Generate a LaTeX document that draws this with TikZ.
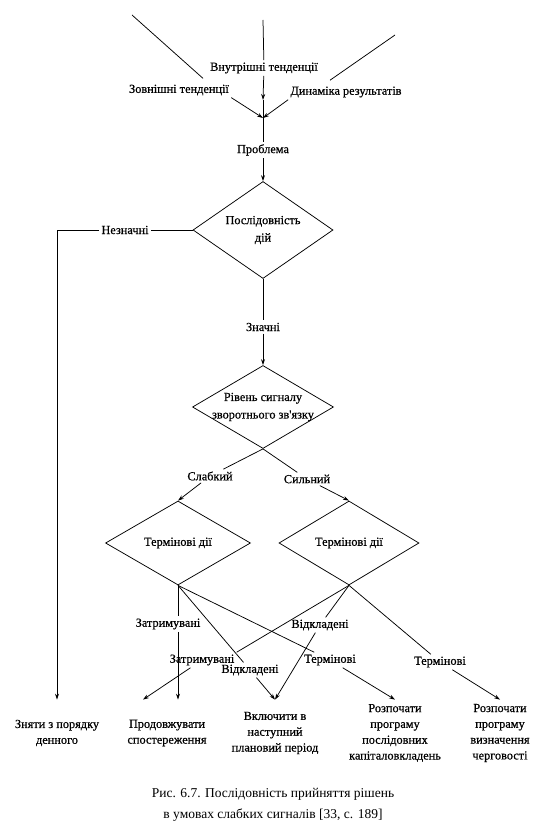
\documentclass[tikz,border=0pt]{standalone}
\usepackage{fontspec}
\setmainfont{Liberation Serif}
\newfontfamily\scanfont{Liberation Serif}[FakeBold=0.6]
\usetikzlibrary{arrows.meta,shapes.geometric}

\begin{document}
\begin{tikzpicture}[x=1pt,y=-1pt,line width=0.75pt,
    lbl/.style={inner sep=2pt,font=\scanfont\fontsize{12.3}{14}\selectfont},
    dia/.style={draw,diamond,aspect=1.6,inner sep=-6pt,align=center,font=\scanfont\fontsize{12.3}{17.5}\selectfont},
    leaf/.style={align=center,inner sep=0pt,minimum height=66pt,font=\scanfont\fontsize{12.3}{15.8}\selectfont},
    arr/.style={-{Stealth[length=6pt,width=4pt]}}]
      \useasboundingbox (0,0) rectangle (547,834);
      % inputs
      \coordinate (vtop) at (263,20);
      \coordinate (ztop) at (132,15);
      \coordinate (dtop) at (395,35);
      \coordinate (meet) at (263,118);
      \node[lbl] (vnut) at (264,68) {Внутрішні тенденції};
      \node[lbl] (zovn) at (179,90) {Зовнішні тенденції};
      \node[lbl] (dyn) at (346,92) {Динаміка результатів};
      \node[lbl] (probl) at (263,150) {Проблема};
      % decisions
      \node[dia,minimum width=140pt,minimum height=97pt] (posl) at (263,230) {Послідовність\\дій};
      \node[lbl] (nezn) at (125,230) {Незначні};
      \node[lbl] (znach) at (263,327) {Значні};
      \node[dia,minimum width=141pt,minimum height=83pt] (riv) at (263,407) {Рівень сигналу\\зворотнього зв'язку};
      \node[lbl] (slab) at (210,476) {Слабкий};
      \node[lbl] (sil) at (307,479) {Сильний};
      \node[dia,minimum width=145pt,minimum height=84pt] (term1) at (178,543) {Термінові дії};
      \node[dia,minimum width=140pt,minimum height=84pt] (term2) at (349,543) {Термінові дії};
      \node[lbl] (zat1) at (168,624) {Затримувані};
      \node[lbl] (vid1) at (320,625) {Відкладені};
      \node[lbl] (zat2) at (202,660) {Затримувані};
      \node[lbl] (vid2) at (250,670) {Відкладені};
      \node[lbl] (ter1) at (330,660) {Термінові};
      \node[lbl] (ter2) at (440,662) {Термінові};
      % outcomes
      \node[leaf] (znyat) at (57,733) {Зняти з порядку\\денного};
      \node[leaf] (prod) at (167,733) {Продовжувати\\спостереження};
      \node[leaf] (vkl) at (275,733) {Включити в\\наступний\\плановий період};
      \node[leaf] (roz1) at (395,733) {Розпочати\\програму\\послідовних\\капіталовкладень};
      \node[leaf] (roz2) at (500,733) {Розпочати\\програму\\визначення\\черговості};
      \node[font=\fontsize{13.5}{21}\selectfont,align=center] (cap) at (273,805) {Рис. 6.7. Послідовність прийняття рішень\\в умовах слабких сигналів [33, с. 189]};

      \draw (vtop) -- (vnut);
      \draw[arr] (vnut) -- ([yshift=18pt]meet);
      \draw ([yshift=18pt]meet) -- (meet);
      \draw (ztop) -- ([xshift=24pt,yshift=4pt]zovn.north);
      \draw[arr] (zovn.south east) -- (meet);
      \draw (dtop) -- ([xshift=-16pt,yshift=4pt]dyn.north);
      \draw[arr] (dyn.south west) -- (meet);
      \draw (meet) -- (probl);
      \draw[arr] (probl) -- (posl);
      \draw (posl) -- (nezn);
      \draw[arr] (nezn) -| (znyat);
      \draw (posl) -- (znach);
      \draw[arr] (znach) -- (riv);
      \draw (riv.south) -- (slab);
      \draw[arr] (slab) -- (term1.north);
      \draw (riv.south) -- (sil);
      \draw[arr] (sil) -- (term2.north);
      % weak signal
      \draw (term1.south) -- (term1.south |- zat1.north);
      \draw[arr] (term1.south |- zat1.south) -- (term1.south |- prod.north);
      \draw (term1.south) -- (vid2);
      \draw[arr] (vid2) -- (vkl.north);
      \draw (term1.south) -- (ter1);
      \draw[arr] (ter1) -- (roz1.north);
      % strong signal
      \draw (term2.south) -- (zat2.north east);
      \draw[arr] (zat2) -- ([xshift=-24pt]prod.north);
      \draw (term2.south) -- (vid1);
      \draw[arr] (vid1) -- (vkl.north);
      \draw (term2.south) -- (ter2);
      \draw[arr] (ter2) -- (roz2.north);
    \end{tikzpicture}
\end{document}
